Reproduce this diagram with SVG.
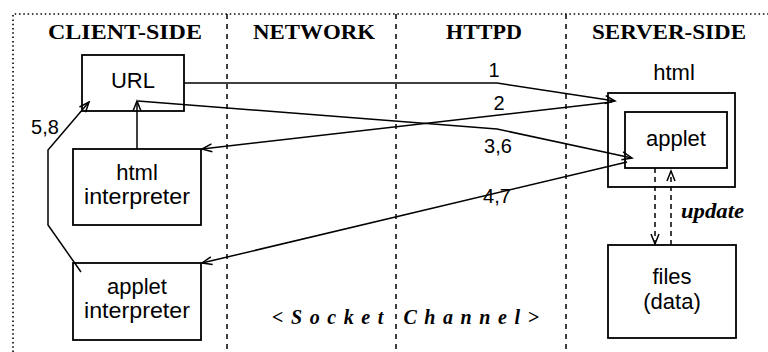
<svg xmlns="http://www.w3.org/2000/svg" width="768" height="352" viewBox="0 0 768 352">
  <defs>
    <marker id="arrow" viewBox="-11 -6 13 12" refX="0" refY="0" markerWidth="13" markerHeight="12" markerUnits="userSpaceOnUse" orient="auto">
      <path d="M -10 -4 L 0 0 L -10 4" fill="none" stroke="#000" stroke-width="1.5"/>
    </marker>
  </defs>
  <style>
    .frame { fill: none; stroke: #000; stroke-width: 1.6; stroke-dasharray: 1.5 2.8; }
    .lane { fill: none; stroke: #000; stroke-width: 1.5; stroke-dasharray: 5 5; }
    .box { fill: none; stroke: #000; stroke-width: 1.8; }
    .head { font-family: "Liberation Serif", "Times New Roman", serif; font-weight: bold; font-size: 21px; text-anchor: middle; }
    .lbl { font-family: "Liberation Sans", Arial, sans-serif; font-size: 22px; text-anchor: middle; }
    .num { font-family: "Liberation Sans", Arial, sans-serif; font-size: 20px; text-anchor: middle; }
    .ital { font-family: "Liberation Serif", "Times New Roman", serif; font-weight: bold; font-style: italic; font-size: 20px; }
    .wire { fill: none; stroke: #000; stroke-width: 1.5; marker-end: url(#arrow); }
    .dwire { fill: none; stroke: #000; stroke-width: 1.5; stroke-dasharray: 5 4; marker-end: url(#arrow); }
  </style>

  <!-- outer dotted frame and swim-lane separators -->
  <g id="frame">
    <path class="frame" d="M 13 352 L 13 14 L 768 14"/>
    <line class="lane" x1="227" y1="14" x2="227" y2="352"/>
    <line class="lane" x1="396" y1="14" x2="396" y2="352"/>
    <line class="lane" x1="566" y1="14" x2="566" y2="352"/>
  </g>

  <!-- lane headings -->
  <g id="headings">
    <text class="head" x="125" y="39" textLength="154" lengthAdjust="spacingAndGlyphs">CLIENT-SIDE</text>
    <text class="head" x="314" y="39" textLength="122" lengthAdjust="spacingAndGlyphs">NETWORK</text>
    <text class="head" x="484" y="39" textLength="76" lengthAdjust="spacingAndGlyphs">HTTPD</text>
    <text class="head" x="669" y="39" textLength="154" lengthAdjust="spacingAndGlyphs">SERVER-SIDE</text>
  </g>

  <g id="url">
    <rect class="box" x="82" y="55" width="102" height="56"/>
    <text class="lbl" x="133" y="88">URL</text>
  </g>

  <g id="html-interpreter">
    <rect class="box" x="73" y="149" width="128" height="76"/>
    <text class="lbl" x="137" y="180">html</text>
    <text class="lbl" x="137" y="204" textLength="106" lengthAdjust="spacingAndGlyphs">interpreter</text>
  </g>

  <g id="applet-interpreter">
    <rect class="box" x="73" y="263" width="128" height="77"/>
    <text class="lbl" x="137" y="294">applet</text>
    <text class="lbl" x="137" y="318" textLength="106" lengthAdjust="spacingAndGlyphs">interpreter</text>
  </g>

  <g id="html-page">
    <text class="lbl" x="674" y="80">html</text>
    <rect class="box" x="608" y="93" width="127" height="94"/>
  </g>

  <g id="applet">
    <rect class="box" x="625" y="112" width="102" height="56"/>
    <text class="lbl" x="676" y="146">applet</text>
  </g>

  <g id="files">
    <rect class="box" x="608" y="245" width="128" height="93"/>
    <text class="lbl" x="672" y="284">files</text>
    <text class="lbl" x="672" y="309">(data)</text>
  </g>

  <!-- connectors -->
  <g id="connectors">
    <polyline class="wire" points="184,83 497,83 615,101"/>
    <line class="wire" x1="612" y1="102" x2="202" y2="149"/>
    <polyline class="wire" points="138,101 497,129 632,158"/>
    <line class="wire" x1="627" y1="162" x2="202" y2="263"/>
    <polyline class="wire" points="81,272 48,225 48,150 89,102"/>
    <line class="wire" x1="137" y1="149" x2="137" y2="101"/>
    <line class="dwire" x1="655" y1="168" x2="655" y2="244"/>
    <line class="dwire" x1="671" y1="245" x2="671" y2="171"/>
    <text class="num" x="494" y="77">1</text>
    <text class="num" x="499" y="110">2</text>
    <text class="num" x="498" y="153">3,6</text>
    <text class="num" x="497" y="203">4,7</text>
    <text class="num" x="45" y="134">5,8</text>
    <text class="ital" x="681" y="218" textLength="63" lengthAdjust="spacingAndGlyphs">update</text>
  </g>

  <g id="socket-channel">
    <text class="ital" x="272" y="324" textLength="267" lengthAdjust="spacing" font-size="21">&lt;Socket Channel&gt;</text>
  </g>
</svg>
